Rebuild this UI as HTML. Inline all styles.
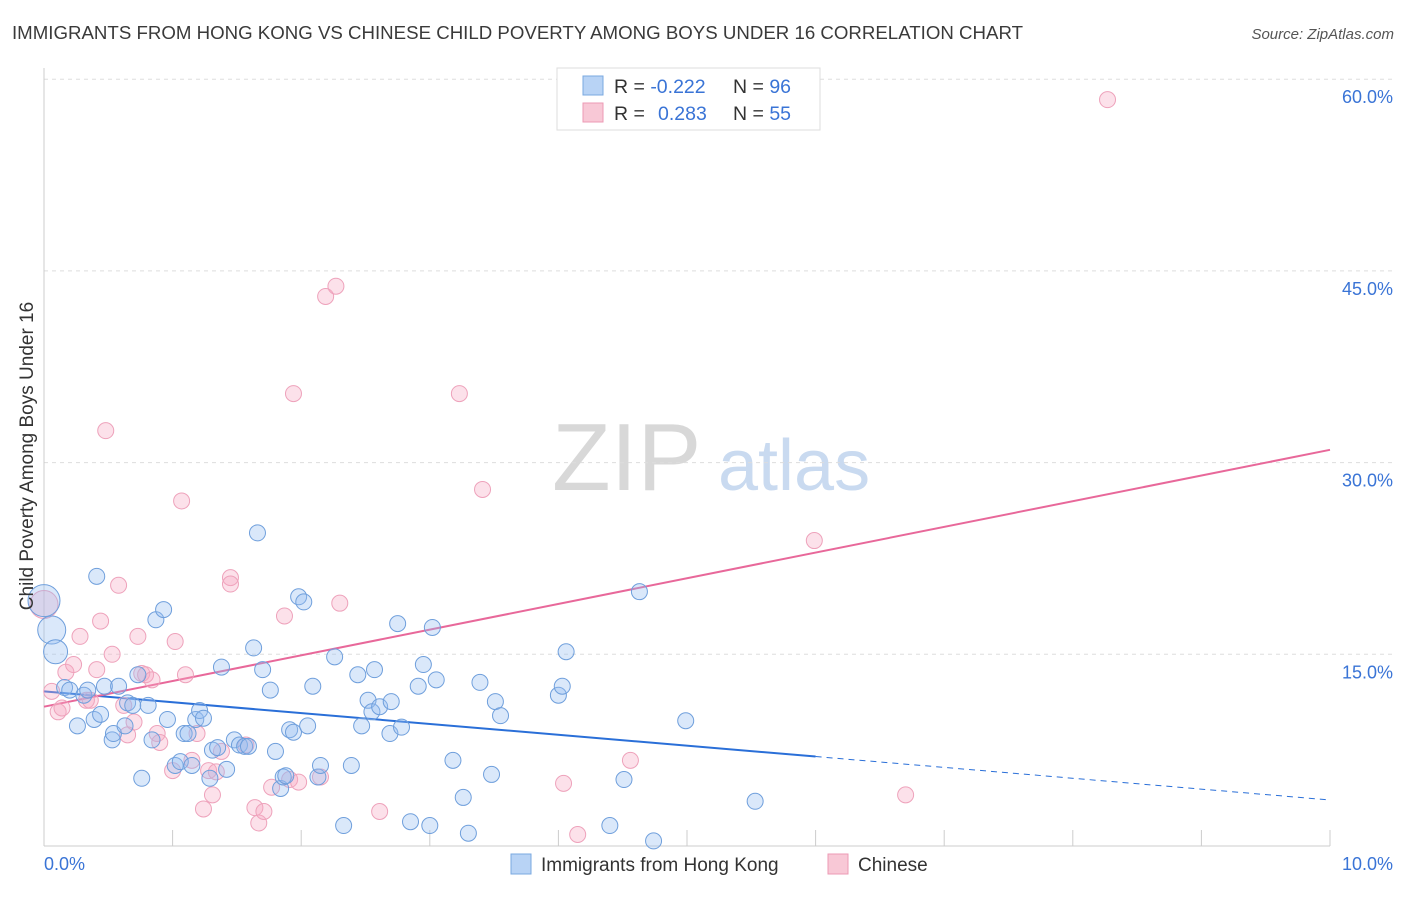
<!DOCTYPE html>
<html><head><meta charset="utf-8"><style>
body{margin:0;background:#fff;font-family:"Liberation Sans",sans-serif;}
svg text{font-family:"Liberation Sans",sans-serif;}
</style></head><body>
<svg id="chart" width="1406" height="892" xmlns="http://www.w3.org/2000/svg">
<text x="12" y="39" font-size="18" fill="#3a3a3a" textLength="1011" lengthAdjust="spacingAndGlyphs">IMMIGRANTS FROM HONG KONG VS CHINESE CHILD POVERTY AMONG BOYS UNDER 16 CORRELATION CHART</text>
<text x="1394" y="39" font-size="15" fill="#555" text-anchor="end" font-style="italic">Source: ZipAtlas.com</text>
<g>
<text x="552" y="490" font-size="96" fill="#d8d8d8" font-family="Liberation Serif, serif">ZIP</text>
<text x="718" y="490" font-size="72" fill="#c9daf0">atlas</text>
</g>
<g id="grid"></g>
<g id="axes"></g>
<g id="lines"></g>
<g id="pts"></g>
<text transform="translate(33,456) rotate(-90)" font-size="19" fill="#333" text-anchor="middle">Child Poverty Among Boys Under 16</text>
<g>
<rect x="557" y="68" width="263" height="62" fill="#fff" stroke="#ddd"/>
<rect x="583" y="76" width="20" height="19" fill="#b8d3f5" stroke="#7aa8e0"/>
<rect x="583" y="103" width="20" height="19" fill="#f8c8d6" stroke="#ec9ab4"/>
<text x="614" y="93" font-size="19.5" fill="#333">R = <tspan fill="#3a74d6">-0.222</tspan></text>
<text x="733" y="93" font-size="19.5" fill="#333">N = <tspan fill="#3a74d6">96</tspan></text>
<text x="614" y="120" font-size="19.5" fill="#333">R = <tspan fill="#3a74d6" x="658">0.283</tspan></text>
<text x="733" y="120" font-size="19.5" fill="#333">N = <tspan fill="#3a74d6">55</tspan></text>
</g>
<g>
<rect x="511" y="854" width="20" height="20" fill="#b8d3f5" stroke="#7aa8e0"/>
<text x="541" y="871" font-size="19" fill="#333">Immigrants from Hong Kong</text>
<rect x="828" y="854" width="20" height="20" fill="#f8c8d6" stroke="#ec9ab4"/>
<text x="858" y="871" font-size="19" fill="#333">Chinese</text>
</g>
</svg>
<script>
const blueX=[0,.06,.09,.16,.20,.26,.31,.34,.39,.41,.44,.47,.53,.54,.58,.63,.65,.69,.73,.76,.81,.84,.87,.93,.96,1.02,1.06,1.09,1.12,1.15,1.18,1.21,1.24,1.29,1.31,1.35,1.38,1.42,1.48,1.52,1.56,1.59,1.63,1.66,1.70,1.76,1.80,1.84,1.86,1.88,1.91,1.94,1.98,2.02,2.05,2.09,2.13,2.15,2.26,2.33,2.39,2.44,2.47,2.52,2.55,2.57,2.61,2.69,2.70,2.75,2.78,2.85,2.91,2.95,3.00,3.02,3.05,3.18,3.26,3.30,3.39,3.48,3.51,3.55,4.00,4.03,4.06,4.40,4.51,4.63,4.74,4.99,5.53];
const blueY=[19.2,16.9,15.2,12.4,12.2,9.4,11.8,12.2,9.9,21.1,10.3,12.5,8.3,8.8,12.5,9.4,11.2,11.0,13.4,5.3,11.0,8.3,17.7,18.5,9.9,6.3,6.6,8.8,8.8,6.3,9.9,10.6,10.0,5.3,7.5,7.7,14.0,6.0,8.3,7.9,7.8,7.8,15.5,24.5,13.8,12.2,7.4,4.5,5.4,5.5,9.1,8.9,19.5,19.1,9.4,12.5,5.4,6.3,14.8,1.6,6.3,13.4,9.4,11.4,10.5,13.8,10.9,8.8,11.3,17.4,9.3,1.9,12.5,14.2,1.6,17.1,13.0,6.7,3.8,1.0,12.8,5.6,11.3,10.2,11.8,12.5,15.2,1.6,5.2,19.9,0.4,9.8,3.5];
const pinkX=[0,.06,.11,.14,.17,.23,.28,.33,.36,.41,.44,.48,.53,.58,.62,.65,.70,.73,.76,.79,.84,.88,.90,1.00,1.02,1.07,1.10,1.15,1.19,1.24,1.28,1.31,1.34,1.38,1.45,1.45,1.57,1.64,1.67,1.71,1.77,1.87,1.91,1.94,1.98,2.15,2.19,2.27,2.30,2.61,3.23,3.41,4.04,4.15,4.56,5.99,6.70,8.27];
const pinkY=[18.9,12.1,10.5,10.8,13.6,14.2,16.4,11.4,11.4,13.8,17.6,32.5,15.0,20.4,11.0,8.7,9.7,16.4,13.5,13.4,13.0,8.8,8.1,5.9,16.0,27.0,13.4,6.7,8.8,2.9,5.9,4.0,5.8,7.4,21.0,20.5,7.9,3.0,1.8,2.7,4.6,18.0,5.2,35.4,5.0,5.4,43.0,43.8,19.0,2.7,35.4,27.9,4.9,0.9,6.7,23.9,4.0,58.4];
const blueTrend=[12.1,-0.85];
const pinkTrend=[10.9,2.01];
const yTicks=[15,30,45,60];
const yTickLabels=["15.0%","30.0%","45.0%","60.0%"];
const xTicks=[0,1,2,3,4,5,6,7,8,9,10];
const NS="http://www.w3.org/2000/svg";
const X=v=>44+v*128.6, Y=v=>846-v*12.78;
function mk(tag,attrs,parent){const e=document.createElementNS(NS,tag);for(const k in attrs)e.setAttribute(k,attrs[k]);parent.appendChild(e);return e;}
const grid=document.getElementById('grid'),axes=document.getElementById('axes'),lines=document.getElementById('lines'),pts=document.getElementById('pts');
yTicks.forEach((t,i)=>{
 const l=mk('line',{x1:44,x2:1393,y1:Y(t),y2:Y(t),stroke:'#ddd','stroke-dasharray':'4,4'},grid);
 
 
 const tx=mk('text',{x:1393,y:Y(t)+24,'font-size':18,fill:'#3a74d6','text-anchor':'end'},axes);
 tx.textContent=yTickLabels[i];
 
 
});
const al=mk('line',{x1:44,x2:44,y1:68,y2:846,stroke:'#ccc'},axes);


const xl=mk('line',{x1:44,x2:1330,y1:846,y2:846,stroke:'#ccc'},axes);


xTicks.forEach(t=>{
 const l=mk('line',{x1:X(t),x2:X(t),y1:830,y2:846,stroke:'#ccc'},axes);
 
 
});
[[0,"0.0%","start",44],[10,"10.0%","end",1393]].forEach(a=>{
 const tx=mk('text',{x:a[3],y:870,'font-size':18,fill:'#3a74d6','text-anchor':a[2]},axes);
 tx.textContent=a[1];
 
 
});
const bt=v=>blueTrend[0]+blueTrend[1]*v, pt=v=>pinkTrend[0]+pinkTrend[1]*v;
pinkX.forEach((x,i)=>{
 const c=mk('circle',{cx:X(x),cy:Y(pinkY[i]),r:i==0?14:8,fill:'rgba(246,170,195,0.35)',stroke:'#eea2bb','stroke-width':1},pts);
 
 
});
blueX.forEach((x,i)=>{
 const c=mk('circle',{cx:X(x),cy:Y(blueY[i]),r:i<3?[16,14,12][i]:8,fill:'rgba(150,190,240,0.35)',stroke:'#6f9fdc','stroke-width':1},pts);
 
 
});
const b1=mk('line',{x1:X(0),y1:Y(bt(0)),x2:X(6),y2:Y(bt(6)),stroke:'#2a6fd8','stroke-width':2},lines);


const b2=mk('line',{x1:X(6),y1:Y(bt(6)),x2:X(10),y2:Y(bt(10)),stroke:'#2a6fd8','stroke-width':1,'stroke-dasharray':'6,5'},lines);


const p1=mk('line',{x1:X(0),y1:Y(pt(0)),x2:X(10),y2:Y(pt(10)),stroke:'#e8689a','stroke-width':2},lines);


</script>
</body></html>
